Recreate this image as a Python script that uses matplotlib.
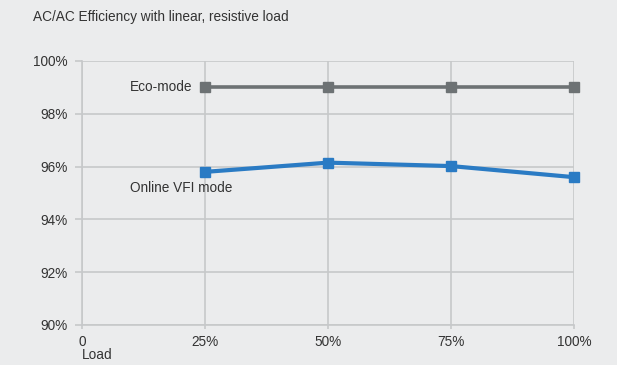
import matplotlib
matplotlib.use("Agg")
import matplotlib.pyplot as plt
from matplotlib.ticker import FuncFormatter

# Load points (% of rated load) and efficiencies (%)
load = [25, 50, 75, 100]
eco_mode = [99.0, 99.0, 99.0, 99.0]
online_vfi = [95.8, 96.15, 96.02, 95.6]
x_ticks = [0, 25, 50, 75, 100]
x_tick_labels = ["0", "25%", "50%", "75%", "100%"]
y_ticks = [90, 92, 94, 96, 98, 100]

bg = "#ebeced"
grid_c = "#c6c8ca"
text_c = "#333333"
fs = 9.8

plt.rcParams["font.family"] = ["Liberation Sans", "DejaVu Sans"]

fig = plt.figure(figsize=(6.17, 3.65), dpi=100, facecolor=bg)
ax = fig.add_axes([82 / 617, 40 / 365, (574 - 82) / 617, (325 - 61) / 365])
ax.set_facecolor(bg)

ax.plot(load, eco_mode, color="#6d7274", lw=2.6, marker="s", ms=7.5,
        zorder=3, clip_on=False)
ax.plot(load, online_vfi, color="#2a7bc4", lw=3, marker="s", ms=7.5,
        zorder=3, clip_on=False)

ax.set_xlim(0, 100)
ax.set_ylim(90, 100)
ax.set_xticks(x_ticks)
ax.set_xticklabels(x_tick_labels)
ax.set_yticks(y_ticks)
ax.yaxis.set_major_formatter(FuncFormatter(lambda v, p: f"{v:.0f}%"))

ax.grid(True, color=grid_c, lw=1.2)
ax.set_axisbelow(True)
for side in ["top", "right"]:
    ax.spines[side].set_visible(False)
for side in ["left", "bottom"]:
    ax.spines[side].set_color(grid_c)
    ax.spines[side].set_linewidth(1.2)

ax.tick_params(axis="y", length=5, width=1.2, color=grid_c, pad=5.5,
               labelsize=fs, labelcolor=text_c)
ax.tick_params(axis="x", length=3, width=1.2, color=grid_c, pad=4.5,
               labelsize=fs, labelcolor=text_c)

ax.text(22.4, eco_mode[0], "Eco-mode", ha="right", va="center",
        fontsize=fs, color=text_c)
ax.text(9.7, 95.18, "Online VFI mode", ha="left", va="center",
        fontsize=fs, color=text_c)

fig.text(33 / 617, 1 - 17 / 365, "AC/AC Efficiency with linear, resistive load",
         ha="left", va="center", fontsize=fs, color=text_c)
fig.text(82 / 617, 1 - 355 / 365, "Load", ha="left", va="center",
         fontsize=fs, color=text_c)

fig.savefig("out.png", dpi=100, facecolor=bg)
